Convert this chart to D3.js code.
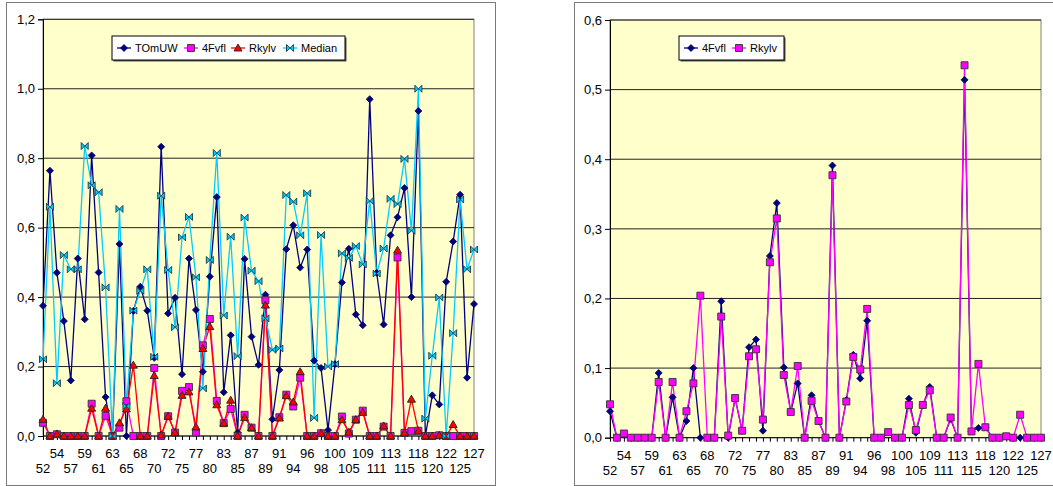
<!DOCTYPE html>
<html>
<head>
<meta charset="utf-8">
<script src="https://cdn.jsdelivr.net/npm/d3@7"></script>
<style>
html,body{margin:0;padding:0;background:#fff;}
svg{display:block;font-family:"Liberation Sans",Arial,sans-serif;}
</style>
</head>
<body>
<svg id="c" width="1053" height="486"></svg>
<script>
const categories = [52,53,54,56,57,58,59,60,61,62,63,64,65,67,68,69,70,71,72,74,75,76,77,79,80,82,83,84,85,86,87,88,89,90,91,93,94,95,96,97,98,99,100,103,105,107,109,110,111,112,113,114,115,117,118,119,120,121,122,124,125,126,127];

const TOmUW = [0.375,0.764,0.470,0.331,0.160,0.511,0.336,0.808,0.471,0.112,0.0,0.553,0.0,0.36,0.43,0.361,0.225,0.833,0.353,0.398,0.178,0.511,0.363,0.185,0.459,0.688,0.126,0.29,0.01,0.51,0.286,0.205,0.407,0.048,0.19,0.538,0.607,0.485,0.537,0.217,0.196,0.017,0.207,0.442,0.539,0.35,0.319,0.97,0.47,0.321,0.578,0.63,0.714,0.4,0.936,0.0,0.117,0.091,0.444,0.56,0.695,0.168,0.38];

const Median = [0.221,0.66,0.152,0.521,0.48,0.48,0.835,0.722,0.702,0.428,0,0.654,0.086,0.361,0.418,0.48,0.228,0.692,0.478,0.313,0.572,0.631,0.457,0.137,0.507,0.815,0.347,0.574,0.23,0.629,0.476,0.446,0.339,0.248,0.252,0.694,0.675,0.578,0.699,0.052,0.579,0.2,0.207,0.526,0.513,0.547,0.494,0.677,0.468,0.54,0.683,0.668,0.798,0.591,1.0,0.05,0.231,0.399,0,0.296,0.681,0.48,0.537];

const Fvfl4 = [0.038,0,0.005,0,0,0,0,0.093,0,0.058,0,0.024,0.1,0,0,0,0.196,0,0.057,0.01,0.13,0.141,0.01,0.261,0.337,0.101,0.037,0.078,0,0.061,0.024,0,0.391,0,0.054,0.119,0.085,0.168,0,0,0.008,0,0,0.056,0.007,0.047,0.073,0,0,0.027,0,0.514,0.009,0.014,0.015,0,0,0.002,0,0,0,0,0];

const Rkylv = [0.048,0,0.006,0,0,0,0,0.08,0,0.08,0,0.038,0.078,0.204,0,0,0.174,0.003,0.057,0.01,0.117,0.127,0.026,0.252,0.315,0.09,0.037,0.103,0,0.053,0.024,0,0.377,0,0.052,0.116,0.098,0.185,0,0,0.008,0,0,0.047,0.011,0.047,0.068,0,0,0.029,0,0.535,0.009,0.106,0.015,0,0,0.002,0,0.033,0,0,0];

const leftTicks = [0,0.2,0.4,0.6,0.8,1.0,1.2];
const rightTicks = [0,0.1,0.2,0.3,0.4,0.5,0.6];

const svg = d3.select("#c");

function markerPath(type){
  if(type==="diamond") return "M0,-3.5L3.5,0L0,3.5L-3.5,0Z";
  if(type==="square") return "M-3.5,-3.5H3.5V3.5H-3.5Z";
  if(type==="triangle") return "M0,-4L4,3L-4,3Z";
  if(type==="bowtie") return "M-3.5,-3.5L3.5,3.5V-3.5L-3.5,3.5Z";
}
function markerStyle(sel, m){
  sel.attr("d", markerPath(m.type)).attr("fill", m.fill).attr("stroke", m.stroke).attr("stroke-width", m.sw);
}

function drawChart(cfg){
  const g = svg.append("g");
  g.append("rect").attr("x",cfg.frame[0]).attr("y",cfg.frame[1]).attr("width",cfg.frame[2]).attr("height",cfg.frame[3])
    .attr("fill","#fff").attr("stroke","#7a7a7a").attr("stroke-width",1);
  const x = d3.scalePoint().domain(d3.range(categories.length)).range([cfg.x0,cfg.x1]);
  const y = d3.scaleLinear().domain([0,cfg.ymax]).range([cfg.yb,cfg.yt]);
  g.append("rect").attr("x",cfg.x0).attr("y",cfg.yt).attr("width",cfg.x1-cfg.x0).attr("height",cfg.yb-cfg.yt)
    .attr("fill","#ffffcc").attr("stroke","#808080").attr("stroke-width",1);
  g.selectAll(".grid").data(cfg.ticks.slice(1)).enter().append("line")
    .attr("x1",cfg.x0).attr("x2",cfg.x1).attr("y1",d=>y(d)).attr("y2",d=>y(d))
    .attr("stroke","#222").attr("stroke-width",1);
  const yAxis = d3.axisLeft(y).tickValues(cfg.ticks).tickSize(5).tickPadding(3)
    .tickFormat(d=>d3.format(".1f")(d).replace(".",","));
  const ya = g.append("g").attr("transform",`translate(${cfg.x0},0)`).call(yAxis);
  ya.select(".domain").attr("stroke","#000");
  ya.selectAll(".tick line").attr("stroke","#000");
  ya.selectAll(".tick text").attr("font-size","13px").attr("fill","#000")
    .attr("font-family",'"Liberation Sans",Arial,sans-serif');
  const xAxis = d3.axisBottom(x).tickSize(4).tickFormat("");
  const xa = g.append("g").attr("transform",`translate(0,${cfg.yb})`).call(xAxis);
  xa.select(".domain").attr("stroke","#000").attr("d",`M${cfg.x0},0H${cfg.x1}`);
  xa.selectAll(".tick line").attr("stroke","#000");
  const lbl = d3.range(0,categories.length,2);
  g.selectAll(".xl").data(lbl).enter().append("text")
    .attr("x",d=>x(d)).attr("y",(d,k)=> k%2===0 ? cfg.yb+37 : cfg.yb+22)
    .attr("text-anchor","middle").attr("font-size","13px").attr("fill","#000")
    .text(d=>categories[d]);
  cfg.series.forEach(s=>{
    const line = d3.line().x((d,i)=>x(i)).y(d=>y(d));
    g.append("path").datum(s.values).attr("d",line).attr("fill","none")
      .attr("stroke",s.color).attr("stroke-width",1.3);
  });
  cfg.series.forEach(s=>{
    g.selectAll(null).data(s.values).enter().append("path")
      .attr("transform",(d,i)=>`translate(${x(i)},${y(d)})`)
      .call(markerStyle, s.marker);
  });
  const L = cfg.legend;
  g.append("rect").attr("x",L.x+1.5).attr("y",L.y+1.5).attr("width",L.w).attr("height",L.h).attr("fill","#555");
  g.append("rect").attr("x",L.x).attr("y",L.y).attr("width",L.w).attr("height",L.h)
    .attr("fill","#fff").attr("stroke","#000").attr("stroke-width",1);
  const ly = L.y + L.h/2;
  cfg.series.forEach((s,k)=>{
    const mx = L.items[k];
    g.append("line").attr("x1",mx-7).attr("x2",mx+7).attr("y1",ly).attr("y2",ly)
      .attr("stroke",s.color).attr("stroke-width",1.3);
    g.append("path").attr("transform",`translate(${mx},${ly})`).call(markerStyle, s.marker);
    g.append("text").attr("x",mx+11).attr("y",ly+4).attr("font-size","11px").attr("fill","#000").text(s.name);
  });
}

const mk = {
  navy:{type:"diamond",fill:"#000080",stroke:"#000060",sw:0.8},
  mag:{type:"square",fill:"#ff00ff",stroke:"#333",sw:0.9},
  red:{type:"triangle",fill:"#ff0000",stroke:"#222",sw:0.9},
  cyan:{type:"bowtie",fill:"#00ccff",stroke:"#1a3a4a",sw:0.9}
};

drawChart({
  frame:[6.5,2.5,489,483],
  x0:43, x1:474, yt:19.3, yb:436, ymax:1.2, ticks:leftTicks,
  series:[
    {name:"TOmUW", values:TOmUW, color:"#000080", marker:mk.navy},
    {name:"4Fvfl", values:Fvfl4, color:"#ff00ff", marker:mk.mag},
    {name:"Rkylv", values:Rkylv, color:"#ff0000", marker:mk.red},
    {name:"Median", values:Median, color:"#00ccff", marker:mk.cyan}
  ],
  legend:{x:112, y:36, w:233, h:24, items:[124,191,238,290]}
});

drawChart({
  frame:[574.5,2.5,490,483],
  x0:610, x1:1041, yt:20, yb:437.7, ymax:0.6, ticks:rightTicks,
  series:[
    {name:"4Fvfl", values:Fvfl4, color:"#000080", marker:mk.navy},
    {name:"Rkylv", values:Rkylv, color:"#ff00ff", marker:mk.mag}
  ],
  legend:{x:679, y:36, w:105, h:24, items:[691,739]}
});
</script>
</body>
</html>
